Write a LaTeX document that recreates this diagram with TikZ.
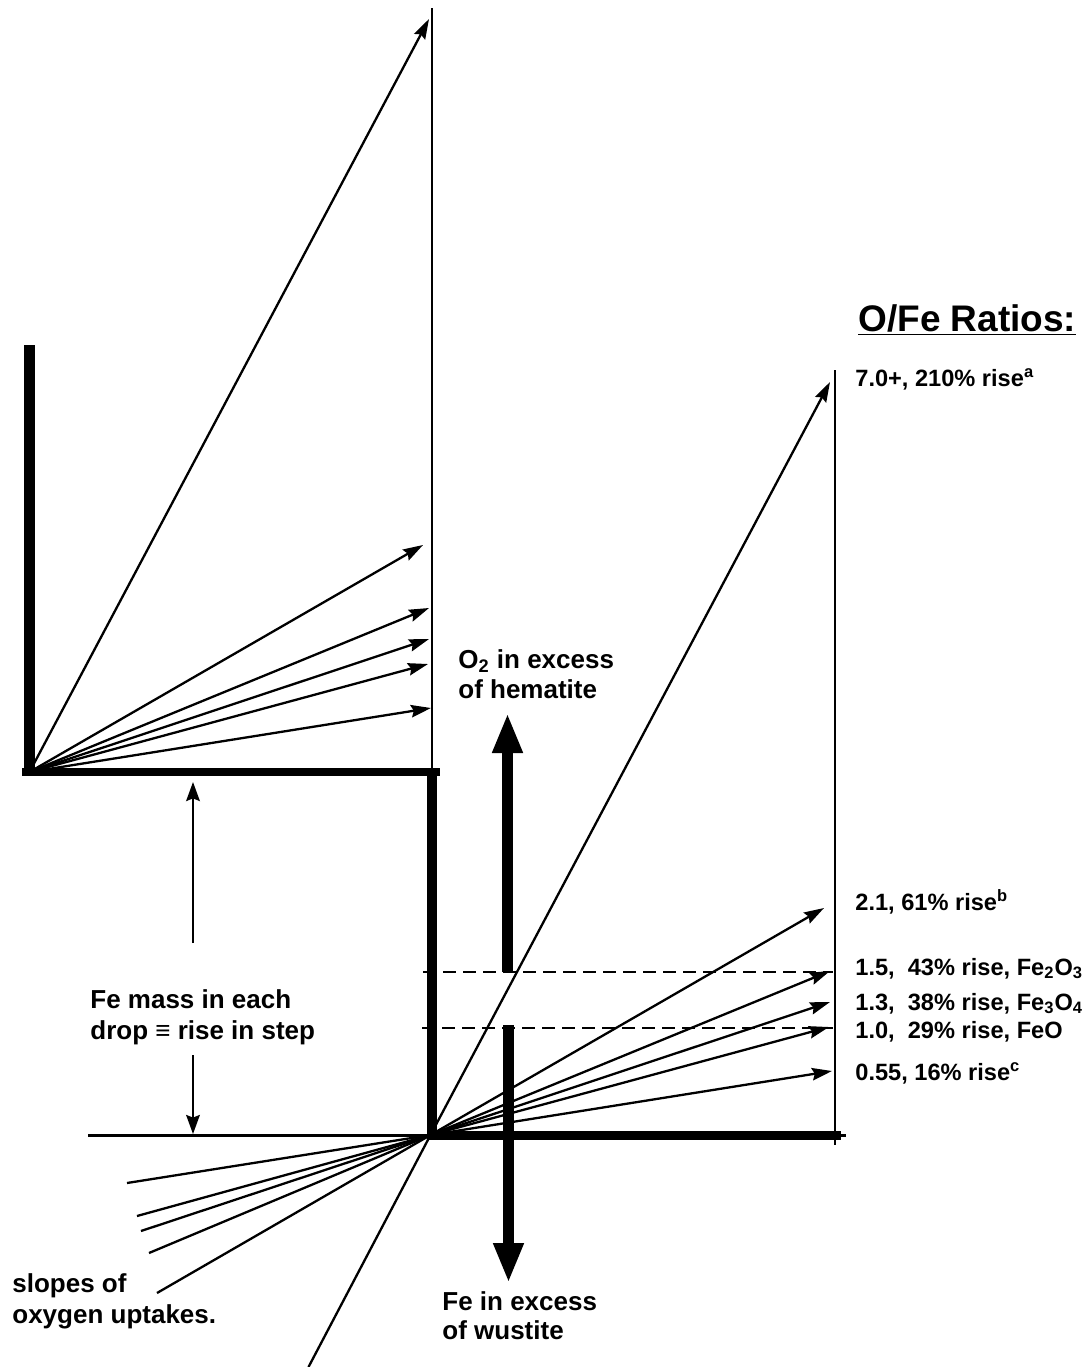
\documentclass[tikz,border=0pt]{standalone}
\usepackage{fontspec}
\setmainfont{Liberation Sans}
\usetikzlibrary{arrows.meta,calc}

\begin{document}
\begin{tikzpicture}[x=0.5pt,y=-0.5pt,
  ray/.style={line width=1.15pt,-{Stealth[length=10pt,width=6.2pt,inset=1.3pt]}},
  ext/.style={line width=1.15pt},
  guide/.style={line width=1.4pt},
  bar/.style={line width=5pt},
  bigarrow/.style={line width=5.5pt,-{Triangle[length=20pt,width=14pt]}},
  dimarrow/.style={line width=1.15pt,-{Stealth[length=9.5pt,width=6.8pt,inset=1.3pt]}},
  dashline/.style={line width=1.1pt,dash pattern=on 6.5pt off 3.5pt},
  lbl/.style={font=\fontsize{11.8}{14}\selectfont\bfseries,anchor=base west,inner sep=0pt},
  txt/.style={font=\fontsize{13}{15}\selectfont\bfseries,anchor=base west,inner sep=0pt},
  ttl/.style={font=\fontsize{18.5}{22}\selectfont\bfseries,anchor=base west,inner sep=0pt},
]
\useasboundingbox (0,0) rectangle (1090,1367);

% origins of the two steps
\coordinate (O1) at (29.5,772);
\coordinate (O2) at (430.5,1135);

% tips of the upper fan
\coordinate (u70) at (429,19);
\coordinate (u21) at (423,545);
\coordinate (u15) at (429,608);
\coordinate (u13) at (429,639);
\coordinate (u10) at (428,664);
\coordinate (u055) at (431,708);

% tips of the lower fan
\coordinate (l70) at (830,382);
\coordinate (l21) at (824,908);
\coordinate (l15) at (830,971);
\coordinate (l13) at (830,1002);
\coordinate (l10) at (829,1027);
\coordinate (l055) at (832,1071);

% back extensions of the lower fan
\coordinate (b70) at (308.5,1367);
\coordinate (b21) at (157,1293);
\coordinate (b15) at (149,1253);
\coordinate (b13) at (141,1231);
\coordinate (b10) at (137,1216);
\coordinate (b055) at (127,1183);

% frame lines
\coordinate (v1top) at (432,8);
\coordinate (v1bot) at (432,772);
\coordinate (v2top) at (835,370);
\coordinate (v2bot) at (835,1145);
\coordinate (hl) at (88,1135.5);
\coordinate (hr) at (846,1135.5);

% thin guides
\draw[guide] (v1top) -- (v1bot);
\draw[guide] (v2top) -- (v2bot);
\draw[ext] (hl) -- (hr);

% step outline
\coordinate (barTop) at (29.5,345);
\coordinate (barBot) at (29.5,776);
\coordinate (stepL) at (22,772);
\coordinate (stepR) at (440,772);
\coordinate (riseTop) at (432,768);
\coordinate (riseBot) at (432,1139);
\coordinate (lowL) at (428,1135);
\coordinate (lowR) at (841,1135);
\draw[line width=5.5pt] (barTop) -- (barBot);
\draw[line width=4.25pt] (stepL) -- (stepR);
\draw[bar] (riseTop) -- (riseBot);
\draw[line width=4.5pt] (lowL) -- (lowR);

% dashed levels
\coordinate (d1l) at (423,972);
\coordinate (d1r) at (833,972);
\coordinate (d2l) at (422,1028);
\coordinate (d2r) at (833,1028);
\draw[dashline] (d1l) -- (d1r);
\draw[dashline] (d2l) -- (d2r);

% upper fan
\foreach \t in {u70,u21,u15,u13,u10,u055}
  \draw[ray] (O1) -- (\t);

% lower fan with its back extensions
\foreach \t in {l70,l21,l15,l13,l10,l055}
  \draw[ray] (O2) -- (\t);
\foreach \b in {b70,b21,b15,b13,b10,b055}
  \draw[ext] (O2) -- (\b);

% thick excess arrows
\coordinate (upS) at (507.5,972);
\coordinate (upT) at (507.5,713);
\coordinate (dnS) at (508.5,1025);
\coordinate (dnT) at (508.5,1283);
\draw[bigarrow] (upS) -- (upT);
\draw[bigarrow] (dnS) -- (dnT);

% step height arrows
\coordinate (fa1) at (193,943);
\coordinate (fa1t) at (193,782);
\coordinate (fa2) at (193,1055);
\coordinate (fa2t) at (193,1134);
\draw[dimarrow] (fa1) -- (fa1t);
\draw[dimarrow] (fa2) -- (fa2t);

% labels
\node[ttl] (title) at (858,331) {\underline{O/Fe Ratios:}};
\node[lbl] (r70) at (855,386) {7.0+, 210\% rise\textsuperscript{a}};
\node[lbl] (r21) at (855,910) {2.1, 61\% rise\textsuperscript{b}};
\node[lbl] (r15) at (855,975) {1.5,~~43\% rise, Fe\textsubscript{2}O\textsubscript{3}};
\node[lbl] (r13) at (855,1010) {1.3,~~38\% rise, Fe\textsubscript{3}O\textsubscript{4}};
\node[lbl] (r10) at (855,1038) {1.0,~~29\% rise, FeO};
\node[lbl] (r055) at (855,1080) {0.55, 16\% rise\textsuperscript{c}};

\node[txt] (hem1) at (458,668) {O\textsubscript{2} in excess};
\node[txt] (hem2) at (458,698) {of hematite};
\node[txt] (wus1) at (442,1310) {Fe in excess};
\node[txt] (wus2) at (442,1339) {of wustite};
\node[txt] (fe1) at (90,1008) {Fe mass in each};
\node[txt] (fe2) at (90,1039) {drop ≡ rise in step};
\node[txt] (sl1) at (12,1292) {slopes of};
\node[txt] (sl2) at (12,1323) {oxygen uptakes.};
\end{tikzpicture}
\end{document}
